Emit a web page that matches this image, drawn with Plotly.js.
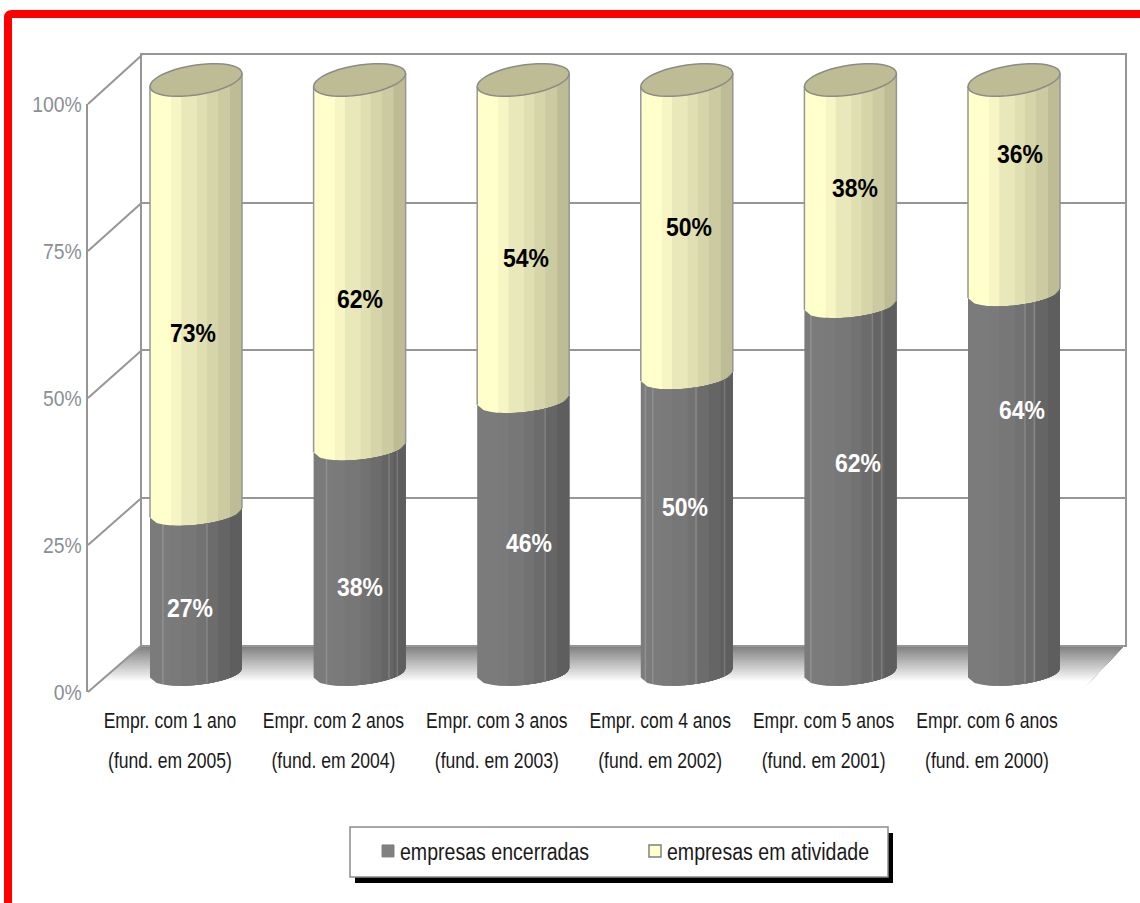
<!DOCTYPE html>
<html>
<head>
<meta charset="utf-8">
<script src="https://cdn.plot.ly/plotly-3.0.1.min.js"></script>
<style>html,body{margin:0;padding:0;background:#fff;overflow:hidden}#chart{width:1140px;height:903px}</style>
</head>
<body>
<div id="chart"></div>
<script>
// Survival of companies by age: share closed vs. still active
const cohort = ["Empr. com 1 ano","Empr. com 2 anos","Empr. com 3 anos","Empr. com 4 anos","Empr. com 5 anos","Empr. com 6 anos"];
const founded = ["(fund. em 2005)","(fund. em 2004)","(fund. em 2003)","(fund. em 2002)","(fund. em 2001)","(fund. em 2000)"];
const closed = [27,38,46,50,62,64];
const active = [73,62,54,50,38,36];
const seriesNames = ["empresas encerradas","empresas em atividade"];
const percentTicks = [0,25,50,75,100];
// where each percentage label sits: height on the value axis, sideways shift in bar slots
const closedLabelLevel = [10.9,14.5,21.9,28,35.4,44.4];
const activeLabelLevel = [57.4,63,70,75.2,81.8,87.6];
const closedLabelShift = [-.037,0,.037,-.012,.049,.049];
const activeLabelShift = [-.018,0,.018,.012,.03,.037];
// facet highlights on the dark part of each cylinder (fraction of its width)
const facetLines = [[.14,.62],[.14,.82,.91],[.74],[.05,.13,.60,.91],[.07,.74,.84],[.62,.72]];
// shading facets from left to right
const facetEdges = [0,.23,.34,.51,.62,.74,.87,1];
const activeShades = ["#FFFFCC","#F7F5C3","#E9E8BB","#E0DFB2","#D6D5AA","#CBCAA1","#BDBC94"];
const closedShades = ["#7B7B7B","#7A7A7A","#777777","#727272","#6C6C6C","#656565","#5E5E5E"];

// page geometry (pixels)
const W=1140,H=903,L=88,R=1125,T=55,B=692;
const pw=R-L,ph=B-T;
const px=x=>(x-L)/pw, py=y=>(B-y)/ph;
const backL=142,backB=645,frontR=1080,frontTop=104;
// bar scale: category spacing and value height in pixels
const pitch=163.6,unit=5.93,x0px=196,y0px=673,radius=46;
const xr=r=>r/pitch, yr=d=>d/unit;

// lower edge of a tilted ellipse around (i, level); f runs 0..1 across the bar
function rim(i,level,f,tilt,minor){
  const c=2*f-1, s=Math.sqrt(Math.max(0,1-c*c));
  const dy=-tilt*c+minor*s;
  return [i+xr(radius*c), level-yr(dy)];
}
const topRim={tilt:6.5,minor:15}, midRim={tilt:4.5,minor:12};
function facetPath(i,a,b,lev1,r1,lev2,r2){
  const n=14,pts=[];
  for(let k=0;k<=n;k++){const f=a+(b-a)*k/n;pts.push(rim(i,lev1,f,r1.tilt,r1.minor));}
  for(let k=n;k>=0;k--){const f=a+(b-a)*k/n;pts.push(rim(i,lev2,f,r2.tilt,r2.minor));}
  return "M"+pts.map(p=>p[0].toFixed(4)+","+p[1].toFixed(3)).join("L")+"Z";
}
const shapes=[];
const ink="#969696";

// floor: gray fading to white towards the front, rows overlap so no seams show
for(let y=backB;y<B;y+=1.5){
  const t=(y-backB)/(B-backB);
  const v=Math.min(255,Math.round(125+170*t));
  const xl=backL+(L-backL)*t, xe=R+(frontR-R)*t;
  shapes.push({type:"path",xref:"paper",yref:"paper",layer:"below",line:{width:0},
    fillcolor:`rgb(${v},${v},${v})`,
    path:`M${px(xl)},${py(y)}L${px(xe)},${py(y)}L${px(frontR)},${py(B)}L${px(L)},${py(B)}Z`});
}
// connectors from the front axis to the back wall
percentTicks.forEach(p=>{
  shapes.push({type:"line",xref:"paper",yref:"paper",layer:"below",line:{color:ink,width:2},
    x0:px(L),y0:py(B-(B-frontTop)*p/100),x1:px(backL),y1:py(backB-(backB-T)*p/100)});
});

// cylinders: each facet runs to the right edge and the next paints over it
cohort.forEach((_,i)=>{
  const c=closed[i];
  activeShades.forEach((col,k)=>{
    shapes.push({type:"path",xref:"x2",yref:"y2",layer:"above",line:{width:0},fillcolor:col,
      path:facetPath(i,facetEdges[k],1,100,topRim,c-0.5,midRim)});
  });
  closedShades.forEach((col,k)=>{
    shapes.push({type:"path",xref:"x2",yref:"y2",layer:"above",line:{width:0},fillcolor:col,
      path:facetPath(i,facetEdges[k],1,c,midRim,0,midRim)});
  });
  facetLines[i].forEach(f=>{
    const a=rim(i,c,f,midRim.tilt,midRim.minor), b=rim(i,0,f,midRim.tilt,midRim.minor);
    shapes.push({type:"line",xref:"x2",yref:"y2",layer:"above",line:{color:"rgba(255,255,255,0.17)",width:1.5},
      x0:a[0],y0:a[1],x1:b[0],y1:b[1]});
  });
  // side edges of the pale part, then the lid
  [0,1].forEach(f=>{
    const a=rim(i,100,f,topRim.tilt,topRim.minor), b=rim(i,c,f,midRim.tilt,midRim.minor);
    shapes.push({type:"line",xref:"x2",yref:"y2",layer:"above",line:{color:ink,width:1.5},x0:a[0],y0:a[1],x1:b[0],y1:b[1]});
  });
  const pts=[];
  for(let k=0;k<=40;k++){
    const t=2*Math.PI*k/40, cc=Math.cos(t), ss=Math.sin(t);
    pts.push([i+xr(radius*cc),100-yr(-topRim.tilt*cc+topRim.minor*ss)]);
  }
  shapes.push({type:"path",xref:"x2",yref:"y2",layer:"above",line:{color:"#8C8C84",width:1.5},fillcolor:"#BDBC94",
    path:"M"+pts.map(p=>p[0].toFixed(4)+","+p[1].toFixed(3)).join("L")+"Z"});
});

// page frame
shapes.push({type:"path",xref:"paper",yref:"paper",layer:"above",line:{color:"#FF0000",width:8},fillcolor:"rgba(0,0,0,0)",
  path:`M${px(8)},${py(920)}L${px(8)},${py(18)}Q${px(8)},${py(14)} ${px(12)},${py(14)}L${px(1160)},${py(14)}`});
// legend box with its drop shadow
shapes.push({type:"rect",xref:"paper",yref:"paper",layer:"above",line:{width:0},fillcolor:"#000",
  x0:px(355),x1:px(893),y0:py(883),y1:py(833)});
shapes.push({type:"rect",xref:"paper",yref:"paper",layer:"above",line:{color:"#8C8C8C",width:1.5},fillcolor:"#fff",
  x0:px(350),x1:px(888),y0:py(877),y1:py(827)});

const idx=cohort.map((_,i)=>i);
const sans="'Liberation Sans',Arial,sans-serif";
// carriers so the wall and the front-plane axes get drawn
const carrier=(x,y,xa,ya)=>({type:"scatter",mode:"none",x,y,xaxis:xa,yaxis:ya,showlegend:false,hoverinfo:"skip"});
const traces=[
  carrier([0,1],[0,100],"x","y"),
  {type:"bar",name:seriesNames[0],x:idx,y:closed,xaxis:"x2",yaxis:"y2",width:.46,
   marker:{color:"#808080",line:{color:"#808080",width:1}},customdata:cohort,hovertemplate:"%{customdata}: %{y}%<extra>"+seriesNames[0]+"</extra>"},
  {type:"bar",name:seriesNames[1],x:idx,y:active,xaxis:"x2",yaxis:"y2",width:.46,
   marker:{color:"#FFFFCC",line:{color:"#808080",width:1.5}},customdata:cohort,hovertemplate:"%{customdata}: %{y}%<extra>"+seriesNames[1]+"</extra>"},
  carrier(idx,closed,"x3","y3"),
  carrier(idx,closed,"x4","y3")
];

const labelFont=c=>({family:sans,size:25,color:c});
const annotations=[];
idx.forEach(i=>{
  annotations.push({xref:"x2",yref:"y2",x:i+closedLabelShift[i],y:closedLabelLevel[i],text:"<b>"+closed[i]+"%</b>",showarrow:false,font:labelFont("#fff")});
  annotations.push({xref:"x2",yref:"y2",x:i+activeLabelShift[i],y:activeLabelLevel[i],text:"<b>"+active[i]+"%</b>",showarrow:false,font:labelFont("#000")});
});

const frontRange=[(L-170)/163.4,(frontR-170)/163.4];
const frontDomain=[0,(frontR-L)/pw];
const catFont={family:sans,size:22.5,color:"#1a1a1a"};
const layout={
  width:W,height:H,margin:{l:L,r:W-R,t:T,b:H-B,pad:0},
  paper_bgcolor:"#fff",plot_bgcolor:"rgba(0,0,0,0)",
  barmode:"stack",showlegend:true,
  // back wall
  xaxis:{domain:[px(backL),1],range:[0,1],anchor:"y",showgrid:false,zeroline:false,showticklabels:false,ticks:"",
         showline:true,mirror:true,linecolor:ink,linewidth:2},
  yaxis:{domain:[py(backB),1],range:[0,100],anchor:"x",tickvals:percentTicks,showticklabels:false,ticks:"",
         showgrid:true,gridcolor:ink,gridwidth:2,zeroline:false,showline:true,mirror:true,linecolor:ink,linewidth:2},
  // bars
  xaxis2:{domain:[0,1],range:[(L-x0px)/pitch,(R-x0px)/pitch],anchor:"y2",visible:false},
  yaxis2:{domain:[0,1],range:[(y0px-B)/unit,(y0px-T)/unit],anchor:"x2",visible:false},
  // front plane: percent scale and category labels
  xaxis3:{domain:frontDomain,range:frontRange,anchor:"y3",tickvals:idx,ticktext:cohort,ticks:"",showgrid:false,zeroline:false,showline:false,
          tickangle:0,tickfont:catFont,ticklabelstandoff:12},
  xaxis4:{overlaying:"x3",range:frontRange,anchor:"y3",tickvals:idx,ticktext:founded,ticks:"",showgrid:false,zeroline:false,showline:false,
          tickangle:0,tickfont:catFont,ticklabelstandoff:52},
  yaxis3:{domain:[0,py(frontTop)],range:[0,100],anchor:"x3",tickvals:percentTicks,ticktext:percentTicks.map(p=>p+"%"),ticks:"",
          showgrid:false,zeroline:false,showline:true,linecolor:ink,linewidth:2,
          tickfont:{family:sans,size:21.5,color:"#8A8F96"}},
  legend:{orientation:"h",x:px(360),y:py(851),xanchor:"left",yanchor:"middle",bgcolor:"rgba(0,0,0,0)",borderwidth:0,
          font:{family:sans,size:23,color:"#1a1a1a"},entrywidth:222,entrywidthmode:"pixels",traceorder:"normal"},
  shapes,annotations
};

// the labels are set in a condensed cut; legend swatches sit close to their text
function condense(gd){
  const squeeze=(sel,k)=>gd.querySelectorAll(sel).forEach(t=>{
    t.setAttribute("textLength",(t.getComputedTextLength()*k).toFixed(1));
    t.setAttribute("lengthAdjust","spacingAndGlyphs");
  });
  squeeze("g.x3tick text, g.x4tick text",.78);
  squeeze("g.y3tick text",.9);
  squeeze(".legendtext",.85);
  squeeze(".annotation-text",.92);
  gd.querySelectorAll(".legendpoints").forEach(g=>g.setAttribute("transform","translate(8,0)"));
}
Plotly.newPlot("chart",traces,layout,{displayModeBar:false,responsive:false}).then(condense);
</script>
</body>
</html>
